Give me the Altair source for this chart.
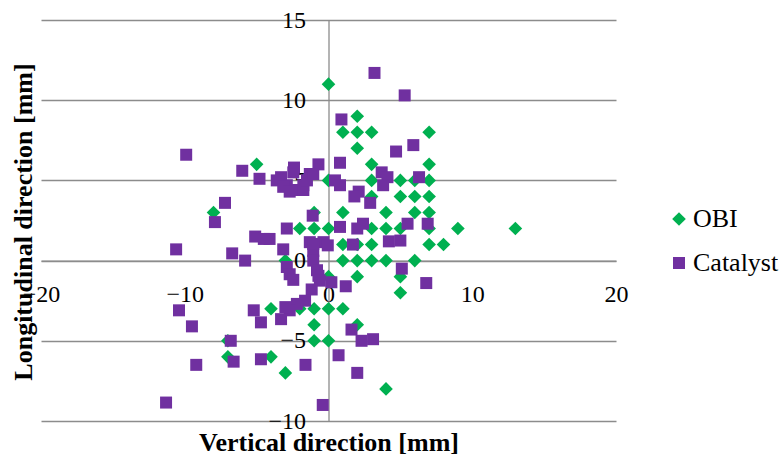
import altair as alt
import pandas as pd

# ---- data ----
obi_x = [0, 2, 1, 2, 3, 7, 2, 3, 7, -5, 0, 3, 5, 6, 7, 3, 5, 6, 7, -1, 1, 4, 6, 7, -8,
         -2, -1, 0, 3, 4, 5, 7, 9, 13, 1, 2, 3, 7, 8, -3, 1, 2, 3, 4, 6, 0, 2, 5, 5,
         -4, -2, -1, 0, 1, -1, 2, -7, -1, 0, -7, -4, -3, 4]
obi_y = [11, 9, 8, 8, 8, 8, 7, 6, 6, 6, 5, 5, 5, 5, 5, 4, 4, 4, 4, 3, 3, 3, 3, 3, 3,
         2, 2, 2, 2, 2, 2, 2, 2, 2, 1, 1, 1, 1, 1, 0, 0, 0, 0, 0, 0, -1, -1, -1, -2,
         -3, -3, -3, -3, -3, -4, -4, -5, -5, -5, -6, -6, -7, -8]

cat_x = [3.2, 5.3, 0.9, 4.7, 5.9, 0.8, -0.7, 3.7, 4.1, 3.8, 6.3, 0.45, 0.8, 2.1, 1.8, 2.9,
         -1.1, -1.3, -1.75,
         -9.9, -6.0, -4.8, -7.2, -7.9, -3.3, -2.9, -2.45, -1.75, -1.5, -1.06, -2.45, -3.6,
         -2.4, -3.15, -2.7,
         -10.6, -6.7, -5.8, -5.1, -4.5, -4.1, -2.9, -3.15, -1.3, -0.35, -1.06, -0.05, -1.06,
         -0.8, -2.9, -2.7, -0.7, -2.45, 0.8, 2.0, 2.4, 5.5, 6.9, 4.2, 5.0, 1.7, -1.06, 5.1,
         6.8, 1.2, 0.2, -0.6, -1.17, -1.63, -2.2, -2.7, -3.3, -3.0,
         -10.4, -9.5, -5.2, -4.7, -6.8, -6.6, -9.2, -4.7, -1.6, -11.3, -0.4, 1.6, 2.3, 3.1,
         0.7, 2.0]
cat_y = [11.7, 10.3, 8.8, 6.8, 7.2, 6.1, 6.0, 5.5, 5.2, 4.7, 5.2, 5.0, 4.7, 4.3, 4.0, 3.6,
         2.8, 5.4, 4.7,
         6.6, 5.6, 5.1, 3.6, 2.4, 5.2, 4.7, 4.4, 4.4, 5.0, 5.4, 5.5, 5.0,
         5.8, 4.6, 4.3,
         0.7, 0.45, 0.0, 1.5, 1.35, 1.35, 2.0, 0.7, 1.15, 1.15, 0.6, 0.95, 0.0,
         -0.6, -0.4, -0.85, -0.95, -1.2, 2.1, 2.0, 2.3, 2.3, 2.3, 1.2, 1.25, 1.0, 1.04, -0.5,
         -1.4, -1.6, -1.35, -1.25, -1.8, -2.5, -2.7, -3.1, -3.65, -2.9,
         -3.1, -4.1, -3.1, -3.85, -5.0, -6.3, -6.5, -6.15, -6.5, -8.85, -9.0, -4.3, -5.0, -4.9,
         -5.9, -7.0]

series_names = ["OBI", "Catalyst"]
x_ticks = [-20, -10, 0, 10, 20]
y_ticks = [-10, -5, 0, 5, 10, 15]

# ---- styling ----
colors = ["#00B050", "#7030A0"]
shapes = ["diamond", "square"]
sizes = [185, 144]
font = "'Liberation Serif', 'Times New Roman', 'DejaVu Serif', serif"
grey = "#8C8C8C"

df = pd.DataFrame({
    "x": obi_x + cat_x,
    "y": obi_y + cat_y,
    "series": ["OBI"] * len(obi_x) + ["Catalyst"] * len(cat_x),
})

W, H = 575, 401
x_axis_offset = -(H - H * 15 / 25)   # place x axis at y = 0
y_axis_offset = -W / 2               # place y axis at x = 0

chart = alt.Chart(df).mark_point(filled=True, opacity=1, strokeWidth=0).encode(
    x=alt.X("x:Q",
            scale=alt.Scale(domain=[-20, 20], nice=False, zero=False),
            axis=alt.Axis(values=x_ticks, title="Vertical direction [mm]",
                          offset=x_axis_offset, grid=False, ticks=False, tickSize=0,
                          labelPadding=22, labelFlush=False, labelOverlap=False,
                          domainColor=grey, domainWidth=1.3,
                          titleX=W / 2, titleY=189.5,
                          titleBaseline="alphabetic", titleAlign="center")),
    y=alt.Y("y:Q",
            scale=alt.Scale(domain=[-10, 15], nice=False, zero=False),
            axis=alt.Axis(values=y_ticks, title="Longitudinal direction [mm]",
                          offset=y_axis_offset, grid=True, gridColor=grey, gridWidth=1.3,
                          ticks=False, tickSize=0, labelPadding=23, labelFlush=False,
                          labelOverlap=False, domainColor=grey, domainWidth=1.3,
                          titleX=-297, titleY=201.5, titleAngle=-90,
                          titleBaseline="alphabetic", titleAlign="center")),
    color=alt.Color("series:N",
                    scale=alt.Scale(domain=series_names, range=colors),
                    legend=alt.Legend(title=None, orient="none", legendX=625, legendY=186,
                                      symbolSize=160, rowPadding=18, labelOffset=1,
                                      padding=0, symbolStrokeWidth=0)),
    shape=alt.Shape("series:N", scale=alt.Scale(domain=series_names, range=shapes)),
    size=alt.Size("series:N", scale=alt.Scale(domain=series_names, range=sizes), legend=None),
    order=alt.Order("ord:Q"),
).transform_calculate(
    ord="datum.series == 'OBI' ? 0 : 1"
).properties(
    width=W, height=H,
    autosize=alt.AutoSizeParams(type="none"),
    padding={"left": 41, "top": 20, "right": 164, "bottom": 34},
    background="white",
).configure(
    font=font
).configure_axis(
    labelFont=font, labelFontSize=24, labelColor="black",
    titleFont=font, titleFontSize=26, titleFontWeight="bold", titleColor="black",
).configure_legend(
    labelFont=font, labelFontSize=26, labelColor="black",
).configure_view(stroke=None)

chart.save("out.html", embed_options={"renderer": "svg", "actions": False})
